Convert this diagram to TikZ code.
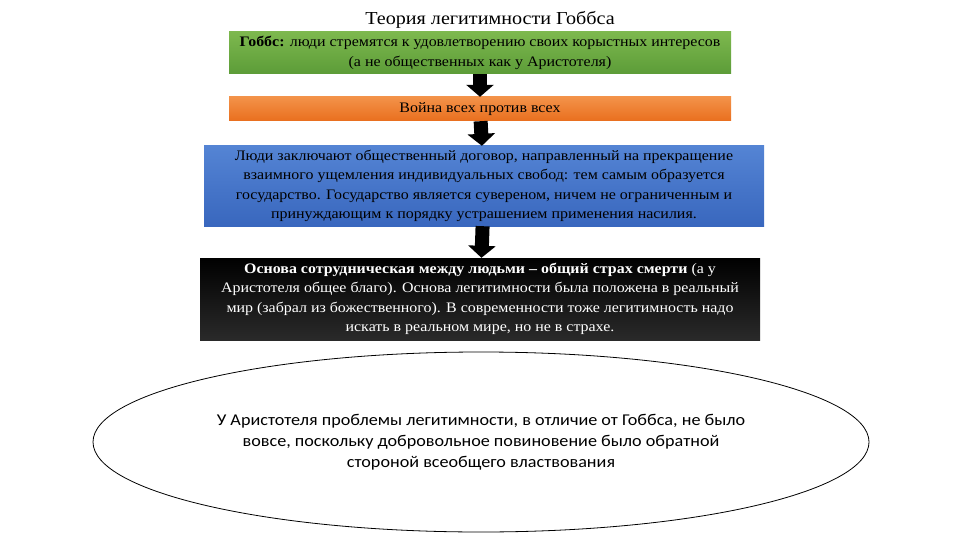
\documentclass[tikz,border=0pt]{standalone}
\usepackage{fontspec}
\setmainfont{Liberation Serif}[FakeStretch=1.1]
\newfontfamily\calfont{Carlito}[FakeStretch=1.1]
\usepackage{xcolor}
\usepackage{tikz}
\usetikzlibrary{arrows.meta,positioning,shapes.geometric}
\definecolor{grntop}{HTML}{7DB84E}
\definecolor{grnbot}{HTML}{5C9C38}
\definecolor{orgtop}{HTML}{F39249}
\definecolor{orgbot}{HTML}{E96F1E}
\definecolor{blutop}{HTML}{5484D4}
\definecolor{blubot}{HTML}{3967BE}
\definecolor{blktop}{HTML}{000000}
\definecolor{blkbot}{HTML}{2A2A2A}

\begin{document}
\begin{tikzpicture}[x=1pt,y=-1pt,
  box/.style={inner sep=0pt,align=center,font=\fontsize{14.5}{19.5}\selectfont},
  arr/.style={-{Triangle[length=12pt,width=27pt]},line width=14pt,draw=black}]
\useasboundingbox (0,0) rectangle (960,540);
\node[font=\fontsize{18.3}{20}\selectfont] (title) at (490,20) {Теория легитимности Гоббса};
\node[box,top color=grntop,bottom color=grnbot,minimum width=502pt,minimum height=42pt] (hobbes) at (480,53)
  {\textbf{Гоббс:} люди стремятся к удовлетворению своих корыстных интересов\\(а не общественных как у Аристотеля)};
\node[box,top color=orgtop,bottom color=orgbot,minimum width=502pt,minimum height=24pt] (war) at (480,109)
  {Война всех против всех};
\node[box,top color=blutop,bottom color=blubot,minimum width=560pt,minimum height=80pt] (contract) at (484,186)
  {Люди заключают общественный договор, направленный на прекращение\\взаимного ущемления индивидуальных свобод: тем самым образуется\\государство. Государство является сувереном, ничем не ограниченным и\\принуждающим к порядку устрашением применения насилия.};
\node[box,top color=blktop,bottom color=blkbot,text=white,minimum width=560pt,minimum height=82pt] (fear) at (480,299)
  {\textbf{Основа сотрудническая между людьми – общий страх смерти} (а у\\Аристотеля общее благо). Основа легитимности была положена в реальный\\мир (забрал из божественного). В современности тоже легитимность надо\\искать в реальном мире, но не в страхе.};
\node[draw=black,ellipse,line width=0.8pt,minimum width=776pt,minimum height=180pt,inner sep=0pt] (arist) at (481,442) {};
\node[align=center,font=\calfont\fontsize{16.5}{21}\selectfont] (aristtxt) at (arist.center)
  {У Аристотеля проблемы легитимности, в отличие от Гоббса, не было\\вовсе, поскольку добровольное повиновение было обратной\\стороной всеобщего властвования};
\draw[arr] (hobbes) -- (war);\draw[arr] (war) -- (contract);\draw[arr] (contract) -- (fear);
\end{tikzpicture}
\end{document}
